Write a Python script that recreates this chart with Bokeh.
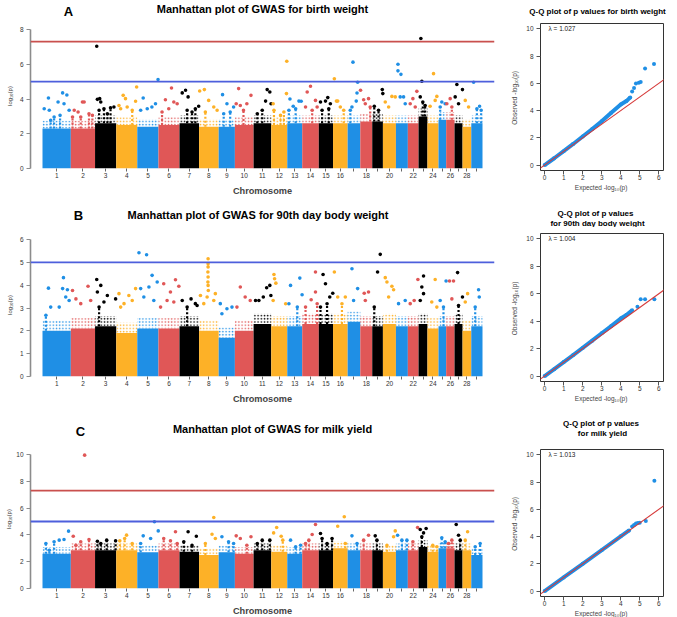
from bokeh.plotting import figure
from bokeh.models import Range1d, FixedTicker, Span, Label, Slope
from bokeh.layouts import column, row
from bokeh.embed import file_html
from bokeh.resources import INLINE

FONT = "Liberation Sans"
BLUE, RED, BLACK, ORANGE = "#1F8FE5", "#E05757", "#000000", "#FDB127"
CHROM_COLORS = [BLUE, RED, BLACK, ORANGE]

# chromosome lengths in Mb (autosomes 1-29)
chrom_len = [159, 136, 119, 118, 119, 118, 110, 110, 91, 105, 99, 90, 84, 93, 80,
             82, 71, 67, 60, 73, 67, 60, 50, 62, 43, 47, 45, 49, 63]
labelled_chroms = [1, 2, 3, 4, 5, 6, 7, 8, 9, 10, 11, 12, 13, 14, 15, 16,
                   18, 20, 22, 24, 26, 28]

# ---- birth weight -------------------------------------------------------
# upper edge of the dense SNP band per chromosome (-log10 p)
bw_band = [2.3, 2.3, 2.6, 2.5, 2.4, 2.5, 2.6, 2.4, 2.4, 2.5, 2.6, 2.5, 2.6, 2.6, 2.6,
           2.6, 2.6, 2.7, 2.7, 2.6, 2.6, 2.6, 3.0, 2.6, 2.8, 2.8, 2.6, 2.4, 2.6]
# SNPs above the band: (chromosome, relative position along chromosome, -log10 p)
bw_hits = [
    (1, 0.21, 4.06), (1, 0.06, 3.44), (1, 0.24, 3.35), (1, 0.55, 3.83), (1, 0.71, 4.35),
    (1, 0.86, 4.23), (1, 0.76, 3.73), (1, 0.62, 3.06), (1, 0.41, 2.96), (1, 0.94, 3.35), (1, 0.29, 2.77),
    (2, 0.48, 3.83), (2, 0.55, 3.83), (2, 0.14, 3.35), (2, 0.30, 3.25), (2, 0.75, 3.15),
    (2, 0.89, 3.06), (2, 0.07, 2.96), (2, 0.41, 2.96),
    (3, 0.08, 7.04), (3, 0.11, 3.98), (3, 0.22, 4.02), (3, 0.27, 3.83), (3, 0.73, 3.50),
    (3, 0.89, 3.54), (3, 0.42, 3.44), (3, 0.19, 3.35), (3, 0.58, 3.15),
    (4, 0.97, 4.69), (4, 0.33, 4.21), (4, 0.44, 4.02), (4, 0.92, 3.87), (4, 0.52, 3.54),
    (4, 0.21, 3.44), (4, 0.76, 3.35), (4, 0.13, 3.63),
    (5, 0.98, 5.12), (5, 0.28, 4.06), (5, 0.86, 3.73), (5, 0.47, 3.44), (5, 0.16, 3.35), (5, 0.69, 3.54),
    (6, 0.62, 4.63), (6, 0.33, 3.96), (6, 0.89, 3.73), (6, 0.73, 3.83), (6, 0.49, 3.44), (6, 0.17, 3.25),
    (7, 0.14, 4.35), (7, 0.31, 4.50), (7, 0.44, 4.12), (7, 0.98, 3.58), (7, 0.39, 3.35),
    (7, 0.64, 3.25), (7, 0.81, 3.44),
    (8, 0.03, 4.46), (8, 0.27, 4.54), (8, 0.49, 3.92), (8, 0.75, 3.54), (8, 0.32, 3.25), (8, 0.92, 3.35),
    (9, 0.24, 4.25), (9, 0.51, 3.73), (9, 0.92, 3.54), (9, 0.71, 3.25), (9, 0.31, 3.15),
    (10, 0.20, 4.60), (10, 0.07, 3.73), (10, 0.29, 3.63), (10, 0.86, 4.21), (10, 0.64, 3.73), (10, 0.46, 3.35),
    (11, 0.77, 4.54), (11, 0.92, 4.40), (11, 0.68, 3.88), (11, 0.49, 3.35), (11, 0.21, 3.15), (11, 0.99, 3.73),
    (12, 0.97, 6.17), (12, 0.95, 4.31), (12, 0.12, 3.73), (12, 0.17, 3.35), (12, 0.58, 3.06), (12, 0.79, 3.25),
    (13, 0.18, 4.00), (13, 0.40, 3.58), (13, 0.78, 3.88), (13, 0.93, 3.87), (13, 0.56, 3.44), (13, 0.11, 3.35),
    (14, 0.50, 4.73), (14, 0.30, 4.40), (14, 0.80, 3.92), (14, 0.20, 3.54), (14, 0.60, 3.35), (14, 0.90, 3.54),
    (15, 0.63, 4.08), (15, 0.47, 3.88), (15, 0.12, 3.83), (15, 0.81, 3.73), (15, 0.23, 3.35), (15, 0.70, 3.44),
    (16, 0.09, 5.17), (16, 0.23, 3.88), (16, 0.32, 3.88), (16, 0.73, 3.35), (16, 0.50, 3.54),
    (17, 0.42, 6.12), (17, 0.79, 4.96), (17, 0.74, 4.35), (17, 0.68, 3.88), (17, 0.34, 3.54), (17, 0.21, 3.35),
    (18, 0.02, 4.50), (18, 0.28, 3.96), (18, 0.69, 4.02), (18, 0.42, 3.73), (18, 0.83, 3.54),
    (19, 0.94, 4.54), (19, 0.99, 4.31), (19, 0.19, 3.58), (19, 0.59, 3.35),
    (20, 0.69, 4.15), (20, 0.18, 3.83), (20, 0.95, 4.12), (20, 0.44, 3.54),
    (21, 0.17, 6.00), (21, 0.17, 5.62), (21, 0.42, 5.42), (21, 0.36, 4.12), (21, 0.64, 4.12), (21, 0.78, 3.73),
    (22, 0.84, 4.44), (22, 0.47, 4.02), (22, 0.22, 3.73), (22, 0.69, 3.54),
    (23, 0.26, 7.48), (23, 0.37, 5.02), (23, 0.19, 4.12), (23, 0.48, 3.83), (23, 0.74, 3.63),
    (24, 0.55, 5.46), (24, 0.85, 4.15), (24, 0.24, 3.58), (24, 0.70, 3.92),
    (25, 0.43, 3.83), (25, 0.87, 3.73), (25, 0.22, 3.54),
    (26, 0.48, 4.02), (26, 0.08, 3.73), (26, 0.68, 3.54),
    (27, 0.29, 4.83), (27, 0.99, 4.54), (27, 0.08, 4.12), (27, 0.50, 3.73),
    (28, 0.31, 3.92), (28, 0.69, 3.54),
    (29, 0.21, 4.96), (29, 0.74, 3.58), (29, 0.50, 3.44), (29, 0.88, 3.35),
]

# ---- 90th day body weight -------------------------------------------------
bw90_band = [2.0, 2.1, 2.2, 1.9, 2.1, 2.1, 2.2, 2.0, 1.7, 2.0, 2.3, 2.2, 2.2, 2.3, 2.3,
             2.3, 2.4, 2.2, 2.2, 2.3, 2.2, 2.2, 2.3, 2.1, 2.2, 2.2, 2.3, 2.0, 2.2]
bw90_hits = [
    (1, 0.21, 3.87), (1, 0.74, 4.33), (1, 0.71, 3.85), (1, 0.88, 3.80), (1, 0.29, 3.04),
    (1, 0.59, 3.04), (1, 0.82, 3.48), (1, 0.12, 2.68), (1, 0.94, 3.33),
    (2, 0.07, 3.77), (2, 0.71, 3.95), (2, 0.21, 3.40), (2, 0.41, 3.19), (2, 0.82, 3.33),
    (3, 0.08, 4.25), (3, 0.27, 3.99), (3, 0.11, 3.70), (3, 0.58, 3.55), (3, 0.97, 3.40),
    (3, 0.42, 3.26), (3, 0.19, 3.04),
    (4, 0.13, 3.63), (4, 0.60, 3.55), (4, 0.92, 3.85), (4, 0.37, 3.19), (4, 0.76, 3.33), (4, 0.21, 3.04),
    (5, 0.08, 5.42), (5, 0.44, 5.33), (5, 0.70, 4.43), (5, 0.16, 3.85), (5, 0.55, 3.92),
    (5, 0.94, 4.14), (5, 0.31, 3.48), (5, 0.78, 3.33),
    (6, 0.25, 4.06), (6, 0.81, 4.24), (6, 0.57, 3.70), (6, 0.97, 3.95), (6, 0.41, 3.33),
    (6, 0.73, 3.26), (6, 0.10, 3.04),
    (7, 0.14, 3.33), (7, 0.59, 3.40), (7, 0.81, 3.19), (7, 0.39, 3.04), (7, 0.90, 3.11),
    (8, 0.46, 5.16), (8, 0.46, 4.94), (8, 0.46, 4.80), (8, 0.45, 4.58), (8, 0.46, 4.36),
    (8, 0.45, 4.14), (8, 0.46, 3.99), (8, 0.47, 3.77), (8, 0.41, 3.48), (8, 0.07, 3.55),
    (8, 0.83, 3.63), (8, 0.24, 3.19), (8, 0.75, 3.33),
    (9, 0.10, 3.19), (9, 0.51, 2.97), (9, 0.82, 3.04), (9, 0.20, 2.75),
    (10, 0.29, 3.92), (10, 0.55, 3.48), (10, 0.82, 3.33), (10, 0.11, 3.04),
    (11, 0.74, 3.89), (11, 0.92, 3.99), (11, 0.55, 3.48), (11, 0.98, 3.55), (11, 0.30, 3.33), (11, 0.11, 3.33),
    (12, 0.17, 4.47), (12, 0.21, 4.28), (12, 0.29, 4.09), (12, 0.12, 3.33), (12, 0.90, 3.19),
    (13, 0.84, 4.31), (13, 0.22, 3.99), (13, 0.99, 3.58), (13, 0.11, 3.19), (13, 0.67, 3.04),
    (14, 0.80, 4.58), (14, 0.80, 3.70), (14, 0.54, 3.36), (14, 0.20, 3.04), (14, 0.90, 3.19),
    (15, 0.30, 4.47), (15, 0.47, 4.06), (15, 0.98, 3.65), (15, 0.77, 3.48), (15, 0.12, 3.04), (15, 0.58, 3.19),
    (16, 0.09, 4.58), (16, 0.32, 3.48), (16, 0.84, 3.48), (16, 0.61, 3.19),
    (17, 0.34, 4.72), (17, 0.79, 3.85), (17, 0.47, 3.33),
    (18, 0.33, 3.65), (18, 0.69, 3.70), (18, 0.42, 3.33),
    (19, 0.75, 5.35), (19, 0.50, 4.58), (19, 0.19, 3.04),
    (20, 0.18, 4.33), (20, 0.31, 4.14), (20, 0.69, 3.95), (20, 0.82, 3.80), (20, 0.44, 3.48),
    (21, 0.22, 3.19), (21, 0.78, 3.33),
    (22, 0.94, 4.25), (22, 0.59, 3.33), (22, 0.22, 3.19),
    (23, 0.56, 4.40), (23, 0.37, 3.92), (23, 0.56, 3.63), (23, 0.19, 3.33),
    (24, 0.70, 4.25), (24, 0.39, 3.26), (24, 0.85, 3.04),
    (25, 0.99, 4.18), (25, 0.22, 3.33), (25, 0.65, 3.04),
    (26, 0.40, 4.18), (26, 0.88, 4.18), (26, 0.68, 3.40),
    (27, 0.38, 4.55), (27, 0.99, 3.48), (27, 0.50, 3.11),
    (28, 0.58, 3.63), (28, 0.31, 3.26),
    (29, 0.65, 3.80), (29, 0.71, 3.48), (29, 0.35, 3.04),
]

# ---- milk yield -------------------------------------------------------------
my_band = [2.6, 2.85, 2.85, 2.85, 2.7, 2.85, 2.75, 2.5, 2.7, 2.6, 2.85, 2.75, 2.6, 2.85, 2.85,
           3.0, 2.85, 2.85, 2.85, 2.75, 2.85, 2.85, 3.1, 2.75, 3.0, 3.0, 2.85, 2.85, 2.5]
my_hits = [
    (1, 0.92, 4.28), (1, 0.76, 3.66), (1, 0.59, 3.61), (1, 0.12, 3.36), (1, 0.41, 3.48), (1, 0.24, 2.86),
    (2, 0.57, 9.95), (2, 0.10, 3.90), (2, 0.75, 3.66), (2, 0.41, 3.48), (2, 0.21, 3.23),
    (3, 0.11, 3.53), (3, 0.55, 3.61), (3, 0.97, 3.56), (3, 0.27, 3.36),
    (4, 0.49, 3.98), (4, 0.40, 3.73), (4, 0.17, 3.56), (4, 0.76, 3.36),
    (5, 0.81, 4.98), (5, 0.28, 3.93), (5, 0.99, 4.30), (5, 0.63, 3.73), (5, 0.16, 3.36),
    (6, 0.81, 4.23), (6, 0.25, 3.73), (6, 0.57, 3.56), (6, 0.89, 3.36),
    (7, 0.44, 4.23), (7, 0.86, 3.90), (7, 0.22, 3.48), (7, 0.64, 3.23),
    (8, 0.75, 5.30), (8, 0.66, 4.05), (8, 0.83, 3.73), (8, 0.32, 3.36),
    (9, 0.20, 3.86), (9, 0.61, 3.48), (9, 0.92, 3.36),
    (10, 0.07, 3.93), (10, 0.29, 3.73), (10, 0.86, 3.86), (10, 0.64, 3.23),
    (11, 0.49, 3.61), (11, 0.92, 3.61), (11, 0.21, 3.36),
    (12, 0.34, 4.55), (12, 0.15, 4.15), (12, 0.62, 3.90), (12, 0.72, 3.61),
    (13, 0.22, 3.61), (13, 0.89, 3.23), (13, 0.56, 3.11),
    (14, 0.80, 4.78), (14, 0.60, 4.03), (14, 0.40, 3.61), (14, 0.20, 3.36),
    (15, 0.12, 4.10), (15, 0.23, 3.73), (15, 0.93, 3.73), (15, 0.58, 3.36),
    (16, 0.77, 5.35), (16, 0.32, 4.65), (16, 0.84, 3.36),
    (17, 0.34, 3.93), (17, 0.74, 3.36),
    (18, 0.69, 3.98), (18, 0.28, 3.61),
    (19, 0.28, 3.93), (19, 0.44, 3.61),
    (20, 0.95, 4.30), (20, 0.82, 3.86), (20, 0.31, 3.23),
    (21, 0.14, 3.98), (21, 0.50, 3.61), (21, 0.92, 3.61),
    (22, 0.91, 4.55), (22, 0.47, 3.48),
    (23, 0.19, 4.40), (23, 0.56, 4.15), (23, 0.85, 4.48), (23, 0.37, 3.86),
    (24, 0.48, 3.23), (24, 0.85, 3.11),
    (25, 0.43, 3.78), (25, 0.87, 3.48),
    (26, 0.68, 3.61), (26, 0.28, 3.36),
    (27, 0.21, 4.78), (27, 0.50, 3.98), (27, 0.71, 3.61),
    (28, 0.58, 4.23), (28, 0.31, 3.61),
    (29, 0.79, 3.36), (29, 0.35, 3.11),
]

# ---- Q-Q curves: expected vs observed -log10 p ------------------------------
qq_bw_exp = [0, 0.5, 1.0, 1.5, 2.0, 2.5, 3.0, 3.5, 4.0, 4.3, 4.5, 4.6, 4.7, 4.8, 4.95, 5.05, 5.28, 5.75]
qq_bw_obs = [0, 0.5, 1.02, 1.55, 2.1, 2.65, 3.22, 3.85, 4.45, 4.7, 4.97, 5.4, 5.66, 6.0, 6.05, 6.1, 7.1, 7.43]
qq_bw90_exp = [0, 0.5, 1.0, 1.5, 2.0, 2.5, 3.0, 3.5, 4.0, 4.3, 4.6, 4.88, 5.05, 5.28, 5.77]
qq_bw90_obs = [0, 0.5, 1.02, 1.53, 2.05, 2.58, 3.12, 3.65, 4.2, 4.45, 4.8, 5.05, 5.6, 5.6, 5.6]
qq_my_exp = [0, 1.0, 2.0, 3.0, 4.0, 4.44, 4.6, 4.7, 4.8, 4.9, 5.0, 5.32, 5.77]
qq_my_obs = [0, 1.0, 2.0, 3.0, 4.02, 4.45, 4.75, 4.85, 4.97, 5.0, 5.02, 5.15, 8.1]
lambda_gc = ["1.027", "1.004", "1.013"]

# ---- genome coordinates ------------------------------------------------------
chrom_start = []
_acc = 0
for _L in chrom_len:
    chrom_start.append(_acc)
    _acc += _L
genome_len = _acc
chrom_end = [s + L for s, L in zip(chrom_start, chrom_len)]
chrom_mid = [round(s + L / 2) for s, L in zip(chrom_start, chrom_len)]
chrom_color = [CHROM_COLORS[i % 4] for i in range(len(chrom_len))]
x_pad = genome_len * 12 / 440

PAGE_W = 677
MAN_FW, MAN_L, MAN_R = 464, 30, 14
QQ_FW, QQ_L, QQ_R = 123, 32, 14


def header(height, texts):
    """Full-width strip above a pair of panels carrying their titles (strip pixels)."""
    p = figure(width=PAGE_W, height=height, x_range=Range1d(0, PAGE_W), y_range=Range1d(height, 0),
               min_border_left=0, min_border_right=0, min_border_top=0, min_border_bottom=0,
               x_axis_type=None, y_axis_type=None,
               output_backend="svg", toolbar_location=None)
    p.outline_line_color = None
    for x, y, text, size in texts:
        p.add_layout(Label(x=x, y=y, text=text, text_font=FONT, text_font_size=size,
                           text_font_style="bold", text_align="center",
                           text_baseline="middle", text_color="#000000"))
    return p


def manhattan(band, hits, fringe, y_hi, y_ticks, frame_h, top, bottom, lines, ylab_standoff):
    p = figure(frame_width=MAN_FW, frame_height=frame_h, min_border_left=MAN_L,
               min_border_right=MAN_R, min_border_top=top, min_border_bottom=bottom,
               x_range=Range1d(-x_pad, genome_len + x_pad), y_range=Range1d(0, y_hi),
               output_backend="svg", toolbar_location=None)
    p.grid.visible = False
    p.outline_line_color = None

    # dense body of SNPs per chromosome, with a speckled fringe on top
    p.quad(left=chrom_start, right=chrom_end, bottom=0, top=band,
           fill_color=chrom_color, line_color=None)
    p.quad(left=chrom_start, right=chrom_end, bottom=band, top=[b + fringe for b in band],
           fill_alpha=0, line_color=None, hatch_pattern="dot", hatch_color=chrom_color,
           hatch_scale=3.2, hatch_weight=1.6)

    xs, ys, cs = [], [], []
    sx, sy0, sy1, sc = [], [], [], []
    for c, f, v in hits:
        x = chrom_start[c - 1] + f * chrom_len[c - 1]
        col = chrom_color[c - 1]
        xs.append(x); ys.append(v); cs.append(col)
        if v - band[c - 1] <= 0.9:
            sx.append(x); sy0.append(band[c - 1]); sy1.append(v); sc.append(col)
    p.segment(x0=sx, y0=sy0, x1=sx, y1=sy1, line_color=sc, line_width=2.2, line_dash="2 2")
    p.scatter(xs, ys, size=3.6, fill_color=cs, line_color=None)

    for val, col in lines:
        p.add_layout(Span(location=val, dimension="width", line_color=col, line_width=1.8))

    xa = p.xaxis[0]
    shown = [chrom_mid[c - 1] for c in labelled_chroms]
    hidden = [chrom_mid[i] for i in range(len(chrom_len)) if (i + 1) not in labelled_chroms]
    xa.ticker = FixedTicker(ticks=shown, minor_ticks=hidden)
    xa.major_label_overrides = {chrom_mid[c - 1]: str(c) for c in labelled_chroms}
    xa.axis_line_color = None
    xa.major_tick_line_color = "#666666"
    xa.minor_tick_line_color = "#666666"
    xa.major_tick_out = 3
    xa.major_tick_in = 0
    xa.minor_tick_out = 3
    xa.minor_tick_in = 0
    xa.major_label_standoff = 1
    xa.major_label_text_font = FONT
    xa.major_label_text_font_size = "6.5px"
    xa.major_label_text_color = "#333333"
    xa.axis_label = "Chromosome"
    xa.axis_label_text_font = FONT
    xa.axis_label_text_font_style = "bold"
    xa.axis_label_text_font_size = "9.2px"
    xa.axis_label_standoff = 5

    ya = p.yaxis[0]
    ya.ticker = FixedTicker(ticks=y_ticks)
    ya.bounds = (0, y_ticks[-1])
    ya.axis_line_color = "#8c8c8c"
    ya.axis_line_width = 1.6
    ya.major_tick_line_color = "#8c8c8c"
    ya.major_tick_out = 4
    ya.major_tick_in = 0
    ya.minor_tick_line_color = None
    ya.major_label_standoff = 3
    ya.major_label_text_font = FONT
    ya.major_label_text_font_size = "6.5px"
    ya.major_label_text_color = "#333333"
    ya.axis_label = "log\u2081\u2080(p)"
    ya.axis_label_text_font = FONT
    ya.axis_label_text_font_style = "normal"
    ya.axis_label_text_font_size = "6px"
    ya.axis_label_text_color = "#333333"
    ya.axis_label_standoff = ylab_standoff
    return p


def qq(exp, obs, n_body, lam, frame_h, top, bottom):
    p = figure(frame_width=QQ_FW, frame_height=frame_h, min_border_left=QQ_L,
               min_border_right=QQ_R, min_border_top=top, min_border_bottom=bottom,
               x_range=Range1d(-0.22, 6.25), y_range=Range1d(-0.4, 10.4),
               output_backend="svg", toolbar_location=None)
    p.grid.visible = False
    p.outline_line_color = "#333333"
    p.outline_line_width = 1

    p.line(exp[:n_body], obs[:n_body], line_width=4, line_color=BLUE)
    p.scatter(exp, obs, size=4, fill_color=BLUE, line_color=None)
    p.add_layout(Slope(gradient=1, y_intercept=0, line_color="#D63A3A", line_width=1.1))
    p.add_layout(Label(x=0.2, y=10, text="\u03bb = " + lam, text_font=FONT,
                       text_font_size="6.5px", text_baseline="middle", text_color="#222222"))

    for ax, ticks, lab, lstand in ((p.xaxis[0], [0, 1, 2, 3, 4, 5, 6], "Expected  -log\u2081\u2080(p)", 1),
                                   (p.yaxis[0], [0, 2, 4, 6, 8, 10], "Observed  -log\u2081\u2080(p)", 5)):
        ax.ticker = FixedTicker(ticks=ticks)
        ax.axis_line_color = None
        ax.major_tick_line_color = "#555555"
        ax.major_tick_out = 4
        ax.major_tick_in = 0
        ax.minor_tick_line_color = None
        ax.major_label_text_font = FONT
        ax.major_label_text_font_size = "6.5px"
        ax.major_label_text_color = "#333333"
        ax.axis_label = lab
        ax.axis_label_text_font = FONT
        ax.axis_label_text_font_style = "normal"
        ax.axis_label_text_font_size = "6.5px"
        ax.axis_label_text_color = "#444444"
        ax.axis_label_standoff = lstand
    p.xaxis[0].major_label_standoff = 0
    p.yaxis[0].major_label_standoff = 3
    return p


GW = 7.3   # genome-wide threshold
SUG = 5.0  # suggestive threshold
RED_LINE, BLUE_LINE = "#C9504E", "#4D5FDC"

# panel A: birth weight
h_a = header(20, [(262, 8.5, "Manhattan plot of GWAS for birth weight", "11px"),
                  (68, 11, "A", "13px"),
                  (597, 10.5, "Q-Q plot of p values for birth weight", "8px")])
m_a = manhattan(bw_band, bw_hits, 0.45, 145 / 17.375, [0, 2, 4, 6, 8], 145, 3, 32,
                [(GW, RED_LINE), (SUG, BLUE_LINE)], 4)
q_a = qq(qq_bw_exp, qq_bw_obs, 11, lambda_gc[0], 147, 1, 32)

# panel B: 90th day body weight
h_b = header(27, [(257.5, 14, "Manhattan plot of GWAS for 90th day body weight", "11px"),
                  (78, 15, "B", "13px"),
                  (595, 13, "Q-Q plot of p values", "8px"),
                  (597, 23, "for 90th day body weight", "8px")])
m_b = manhattan(bw90_band, bw90_hits, 0.45, 143 / 22.83, [0, 1, 2, 3, 4, 5, 6], 143, 6, 27,
                [(SUG, BLUE_LINE)], 4)
q_b = qq(qq_bw90_exp, qq_bw90_obs, 11, lambda_gc[1], 148, 1, 27)

# panel C: milk yield
h_c = header(33, [(272, 22, "Manhattan plot of GWAS for milk yield", "11px"),
                  (80, 25, "C", "13px"),
                  (600.5, 17, "Q-Q plot of p values", "8px"),
                  (602, 26.5, "for milk yield", "8px")])
m_c = manhattan(my_band, my_hits, 0.5, 139 / 13.4, [0, 2, 4, 6, 8, 10], 139, 10, 32,
                [(GW, RED_LINE), (SUG, BLUE_LINE)], 1)
q_c = qq(qq_my_exp, qq_my_obs, 6, lambda_gc[2], 147, 2, 32)

layout = column(
    h_a, row(m_a, q_a, spacing=0),
    h_b, row(m_b, q_b, spacing=0),
    h_c, row(m_c, q_c, spacing=0),
    spacing=0,
)

with open("out.html", "w") as fh:
    fh.write(file_html(layout, INLINE, title="GWAS Manhattan and Q-Q plots"))
